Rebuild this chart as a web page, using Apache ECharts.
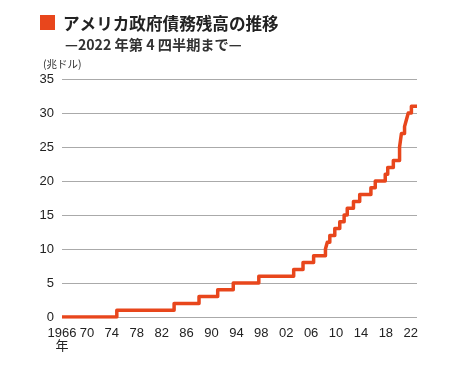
<!DOCTYPE html>
<html>
<head>
<meta charset="utf-8">
<script src="https://cdn.jsdelivr.net/npm/echarts@6/dist/echarts.min.js"></script>
<style>
  html, body { margin: 0; padding: 0; background: #fff; }
  #chart { width: 466px; height: 376px; }
</style>
</head>
<body>
<div id="chart"></div>
<script>
// year when the (rounded) debt level changes, and the new level in trillion dollars
const years = [1966, 1974.8, 1984, 1988, 1991, 1993.5, 1997.6, 2003.2, 2004.7, 2006.4,
  2008.3, 2008.6, 2009.0, 2009.8, 2010.6, 2011.3, 2011.8, 2012.8, 2013.8, 2015.6,
  2016.3, 2017.9, 2018.3, 2019.2, 2020.2, 2020.35, 2020.5, 2021.0, 2021.3, 2021.6,
  2022.1, 2023];
const debt = [0, 1, 2, 3, 4, 5, 6, 7, 8, 9,
  10, 11, 12, 13, 14, 15, 16, 17, 18, 19,
  20, 21, 22, 23, 25, 26, 27, 28, 29, 30,
  31, 31];
const yTicks = [0, 5, 10, 15, 20, 25, 30, 35];

const ORANGE = "#e8461c";
const FONT = "'Liberation Sans', 'Noto Sans CJK JP', sans-serif";
const JP = "'Noto Sans CJK JP', sans-serif";

const chart = echarts.init(document.getElementById("chart"));

chart.setOption({
  backgroundColor: "#fff",
  animation: false,
  title: [
    {
      text: "アメリカ政府債務残高の推移",
      left: 58,
      top: 10,
      textStyle: { fontFamily: JP, fontSize: 16.6, fontWeight: "bold", color: "#222" }
    },
    {
      text: "—2022 年第 4 四半期まで—",
      left: 60,
      top: 33,
      textStyle: { fontFamily: JP, fontSize: 14.2, fontWeight: "bold", color: "#333" }
    },
    {
      text: "(兆ドル)",
      left: 38,
      top: 54,
      textStyle: { fontFamily: JP, fontSize: 10.5, fontWeight: "normal", color: "#333" }
    }
  ],
  graphic: [
    {
      type: "rect",
      left: 40,
      top: 15,
      shape: { width: 15, height: 15 },
      style: { fill: ORANGE }
    }
  ],
  grid: { left: 62, right: 49, top: 79, bottom: 59 },
  xAxis: {
    type: "value",
    min: 1966,
    max: 2023,
    interval: 4,
    axisLine: { show: false },
    axisTick: { show: false },
    splitLine: { show: false },
    axisLabel: {
      showMaxLabel: false,
      margin: 10,
      fontFamily: FONT,
      fontSize: 13,
      color: "#222",
      lineHeight: 13,
      formatter: (v) => (v === 1966 ? "1966\n年" : String(v).slice(2))
    }
  },
  yAxis: {
    type: "value",
    min: yTicks[0],
    max: yTicks[yTicks.length - 1],
    interval: 5,
    axisLine: { show: false },
    axisTick: { show: false },
    splitLine: { lineStyle: { color: "#aaa", width: 1 } },
    axisLabel: { margin: 8, fontFamily: FONT, fontSize: 13, color: "#222" }
  },
  series: [
    {
      type: "line",
      step: "end",
      symbol: "none",
      data: years.map((y, i) => [y, debt[i]]),
      lineStyle: { color: ORANGE, width: 3.5, join: "round" },
      z: 5
    }
  ]
});
</script>
</body>
</html>
